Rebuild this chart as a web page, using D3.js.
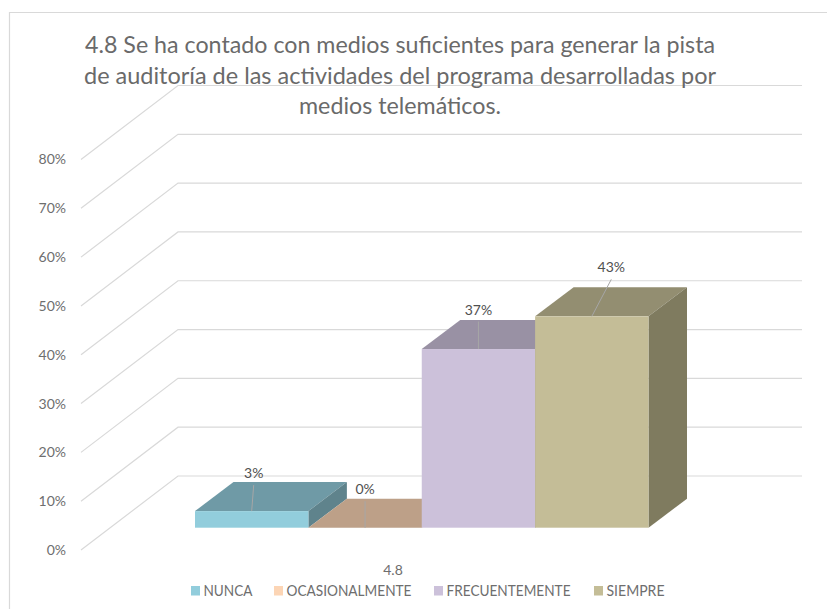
<!DOCTYPE html>
<html>
<head>
<meta charset="utf-8">
<script src="https://d3js.org/d3.v7.min.js"></script>
<style>
html, body { margin: 0; padding: 0; background: #fff; }
svg { display: block; }
text { font-family: Lato, "Open Sans", sans-serif; }
</style>
</head>
<body>
<script>
var categoryLabel = "4.8";
var titleLines = [
  "4.8 Se ha contado con medios suficientes para generar la pista",
  "de auditoría de las actividades del programa desarrolladas por",
  "medios telemáticos."
];
var titleWidths = [630, 632, 202];
var series = ["NUNCA", "OCASIONALMENTE", "FRECUENTEMENTE", "SIEMPRE"];
var values = [3.4, 0, 36.6, 43.3];
var yTicks = [0, 10, 20, 30, 40, 50, 60, 70, 80];
var frontColors = ["#92cddc", "#bda088", "#ccc1da", "#c4bd97"];
var topColors = ["#6f9aa6", "#bda088", "#9991a4", "#938e71"];
var sideColors = ["#5f838c", "#bda088", "#827b8c", "#7f7b5f"];
var legendColors = ["#92cddc", "#fcd5b5", "#ccc1da", "#c4bd97"];
var legendSwatchX = [191, 274, 434, 594];
var legendTextWidths = [49, 125, 124, 58];
var leaderOffsets = [[2, 26], [0, 26.5], [0, 27.5], [19.5, 37]];

var svg = d3.select("body").append("svg").attr("width", 827).attr("height", 609);

// frame, only top and left show in the picture
svg.append("path").attr("d", "M9.5,609V12.5H827").attr("fill", "none").attr("stroke", "#d9d9d9").attr("stroke-width", 1.2);

var y = d3.scaleLinear().domain([0, 80]).range([550, 159.5]);
var x = d3.scaleBand().domain(series).range([195, 648.5]);

// floor and back wall offset
var wallDx = 97, wallDy = -74;
var barDx = 38.5, barDy = -29;
var barBase = 527.7 - y(0);

var grid = svg.append("g").attr("fill", "none").attr("stroke", "#d9d9d9").attr("stroke-width", 1.2);
grid.selectAll("path").data(yTicks).enter().append("path").attr("d", function (d) {
  return "M81," + y(d) + "L" + (81 + wallDx) + "," + (y(d) + wallDy) + "H802";
});

var axis = svg.append("g").attr("transform", "translate(70,0)")
  .call(d3.axisLeft(y).tickValues(yTicks).tickSize(0).tickFormat(function (d) { return d + "%"; }));
axis.select(".domain").remove();
axis.selectAll("text").attr("font-family", "Lato").attr("font-size", 14).attr("fill", "#6e6e6e").attr("x", -4);

// bars, left to right so later ones hide earlier tops
var bar = svg.append("g").selectAll("g").data(series).enter().append("g");

function barTop(i) { return y(values[i]) + barBase; }

bar.append("polygon").attr("fill", function (d, i) { return topColors[i]; }).attr("points", function (d, i) {
  var l = x(d), r = l + x.bandwidth(), t = barTop(i);
  return [[l, t], [r, t], [r + barDx, t + barDy], [l + barDx, t + barDy]].join(" ");
});
bar.append("polygon").attr("fill", function (d, i) { return sideColors[i]; }).attr("points", function (d, i) {
  var r = x(d) + x.bandwidth(), t = barTop(i), b = y(0) + barBase;
  return [[r, t], [r + barDx, t + barDy], [r + barDx, b + barDy], [r, b]].join(" ");
});
bar.append("rect")
  .attr("x", function (d) { return x(d); })
  .attr("y", function (d, i) { return barTop(i); })
  .attr("width", x.bandwidth())
  .attr("height", function (d, i) { return y(0) + barBase - barTop(i); })
  .attr("fill", function (d, i) { return frontColors[i]; });

// leader lines and value labels
bar.append("line")
  .attr("x1", function (d) { return x(d) + x.bandwidth() / 2; })
  .attr("y1", function (d, i) { return barTop(i); })
  .attr("x2", function (d, i) { return x(d) + x.bandwidth() / 2 + leaderOffsets[i][0]; })
  .attr("y2", function (d, i) { return barTop(i) - leaderOffsets[i][1]; })
  .attr("stroke", "#a6a6a6").attr("stroke-width", 1);
bar.append("text")
  .attr("x", function (d, i) { return x(d) + x.bandwidth() / 2 + leaderOffsets[i][0]; })
  .attr("y", function (d, i) { return barTop(i) - leaderOffsets[i][1] - 7; })
  .attr("text-anchor", "middle").attr("font-size", 14).attr("fill", "#505050")
  .text(function (d, i) { return Math.round(values[i]) + "%"; });

// title sits over the gridlines
svg.append("g").selectAll("text").data(titleLines).enter().append("text")
  .attr("x", 400)
  .attr("y", function (d, i) { return 53 + i * 30.5; })
  .attr("text-anchor", "middle").attr("font-size", 23).attr("fill", "#6a6a6a")
  .attr("textLength", function (d, i) { return titleWidths[i]; })
  .attr("lengthAdjust", "spacingAndGlyphs")
  .text(function (d) { return d; });

svg.append("text").attr("x", 393).attr("y", 575).attr("text-anchor", "middle")
  .attr("font-size", 14).attr("fill", "#6e6e6e").text(categoryLabel);

var legend = svg.append("g").selectAll("g").data(series).enter().append("g");
legend.append("rect")
  .attr("x", function (d, i) { return legendSwatchX[i]; })
  .attr("y", 586).attr("width", 9).attr("height", 9.5)
  .attr("fill", function (d, i) { return legendColors[i]; });
legend.append("text")
  .attr("x", function (d, i) { return legendSwatchX[i] + 12.5; })
  .attr("y", 595.7).attr("font-size", 14.5).attr("fill", "#6e6e6e")
  .attr("textLength", function (d, i) { return legendTextWidths[i]; })
  .attr("lengthAdjust", "spacingAndGlyphs")
  .text(function (d) { return d; });
</script>
</body>
</html>
